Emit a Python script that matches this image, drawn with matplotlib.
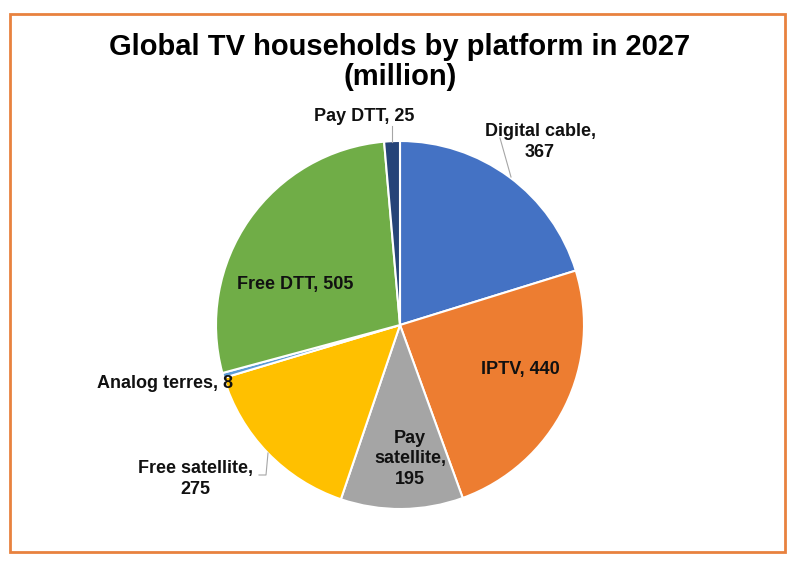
import matplotlib.pyplot as plt
from matplotlib.patches import Rectangle

plt.rcParams['font.family'] = ['Liberation Sans', 'DejaVu Sans']

platforms = ['Digital cable', 'IPTV', 'Pay satellite', 'Free satellite',
             'Analog terres', 'Free DTT', 'Pay DTT']
households = [367, 440, 195, 275, 8, 505, 25]
colors = ['#4472C4', '#ED7D31', '#A5A5A5', '#FFC000',
          '#5B9BD5', '#70AD47', '#264478']
label_text = ['Digital cable,\n367', 'IPTV, 440', 'Pay\nsatellite,\n195',
              'Free satellite,\n275', 'Analog terres, 8', 'Free DTT, 505',
              'Pay DTT, 25']

fig = plt.figure(figsize=(8, 5.68), dpi=100)

# pie: center at (400, 325) px, radius ~184 px
r_px = 184
span = 1.6
size_px = r_px * 2 * span
ax = fig.add_axes([(400 - size_px / 2) / 800, (243 - size_px / 2) / 568,
                   size_px / 800, size_px / 568])
ax.pie(households, colors=colors, startangle=90, counterclock=False,
       wedgeprops=dict(edgecolor='white', linewidth=1.5))
ax.set_xlim(-span, span)
ax.set_ylim(-span, span)
ax.set_aspect('equal')
ax.axis('off')


def d(px, py):
    return ((px - 400) / r_px, (325 - py) / r_px)


# label positions in pixel coords (center x, center y, ha)
pos = [(540, 142, 'center'), (520, 370, 'center'), (410, 459, 'center'),
       (195, 479, 'center'), (233, 384, 'right'), (295, 285, 'center'),
       (364, 117, 'center')]
for txt, (px, py, ha) in zip(label_text, pos):
    x, y = d(px, py)
    ax.text(x, y, txt, ha=ha, va='center', fontsize=13, fontweight='bold',
            color='#111111', linespacing=1.3)

# leader lines
lx, ly = zip(*[d(500, 138), d(511, 177)])
ax.plot(lx, ly, color='#A6A6A6', lw=0.8)
lx, ly = zip(*[d(259, 475), d(266, 475), d(268, 453)])
ax.plot(lx, ly, color='#A6A6A6', lw=0.8)
lx, ly = zip(*[d(392, 126), d(392, 142)])
ax.plot(lx, ly, color='#A6A6A6', lw=0.8)

fig.text(0.5, 1 - 62 / 568, 'Global TV households by platform in 2027\n(million)',
         ha='center', va='center', fontsize=21, fontweight='bold',
         linespacing=1.05)

fig.patches.append(Rectangle((10 / 800, 16 / 568), 775 / 800, 538 / 568,
                             transform=fig.transFigure, fill=False,
                             edgecolor='#E8823F', linewidth=2))

fig.savefig('out.png', dpi=100, facecolor='white')
